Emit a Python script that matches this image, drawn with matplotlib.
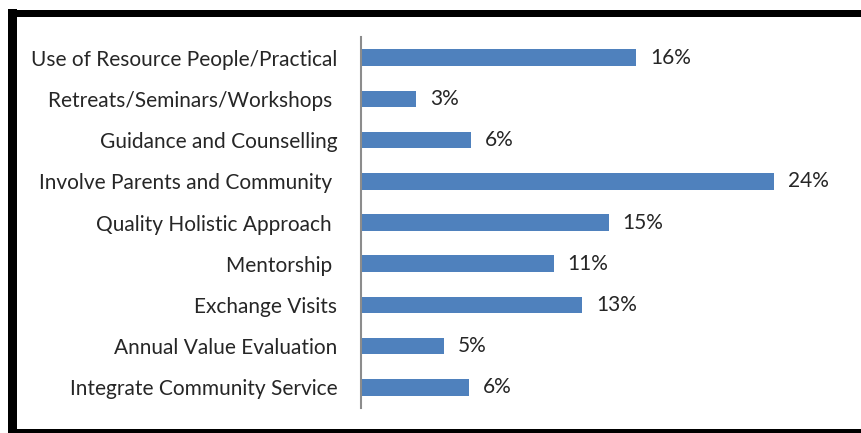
import matplotlib
matplotlib.use("Agg")
import matplotlib.pyplot as plt
from matplotlib.patches import Rectangle

categories = [
    "Use of Resource People/Practical",
    "Retreats/Seminars/Workshops ",
    "Guidance and Counselling",
    "Involve Parents and Community ",
    "Quality Holistic Approach ",
    "Mentorship ",
    "Exchange Visits",
    "Annual Value Evaluation",
    "Integrate Community Service",
]
# bar lengths as drawn (labels are the rounded percentages)
values = [16.0, 3.2, 6.4, 24.0, 14.4, 11.2, 12.85, 4.8, 6.3]
value_labels = ["16%", "3%", "6%", "24%", "15%", "11%", "13%", "5%", "6%"]

plt.rcParams['font.family'] = ['Lato', 'DejaVu Sans']

W, H = 861, 433
fig = plt.figure(figsize=(W / 100, H / 100), dpi=100)
ax = fig.add_axes([361 / W, (H - 408) / H, (840 - 361) / W, 371 / H])

ypos = list(range(len(categories)))
ax.barh(ypos, values, height=0.4, color="#4F81BD")
ax.set_ylim(len(categories) - 0.5, -0.5)
ax.set_xlim(0, (840 - 361) / 17.2)

ax.set_yticks(ypos)
ax.set_yticklabels(categories, fontsize=15, color="#262626")
ax.tick_params(axis="y", length=0, pad=17)
ax.set_xticks([])

for y, v, lab in zip(ypos, values, value_labels):
    ax.annotate(lab, (v, y), xytext=(10, 0), textcoords="offset points",
                va="center", ha="left", fontsize=15, color="#262626")

for s in ["top", "right", "bottom"]:
    ax.spines[s].set_visible(False)
ax.spines["left"].set_color("#8C8C8C")
ax.spines["left"].set_linewidth(1.5)

# thick black frame (left, top, bottom)
frame = dict(transform=fig.transFigure, facecolor="black", edgecolor="none")
fig.patches.append(Rectangle((8 / W, 0), 9 / W, (H - 9) / H, **frame))
fig.patches.append(Rectangle((8 / W, (H - 17) / H), (W - 8) / W, 7 / H, **frame))
fig.patches.append(Rectangle((8 / W, 0), (W - 8) / W, 4 / H, **frame))

fig.savefig("out.png", dpi=100)
